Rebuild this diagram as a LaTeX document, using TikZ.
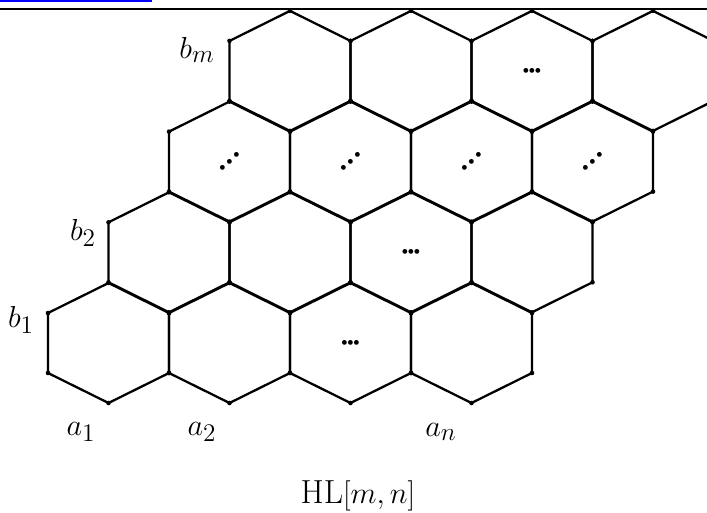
\documentclass[tikz,border=0pt]{standalone}
\usepackage{amsmath,amssymb}
\usepackage{tikz}
\usetikzlibrary{calc}

\tikzset{
  edge/.style={line width=1.3pt},
  lbl/.style={inner sep=0pt,font=\fontsize{19}{22}\selectfont},
  dotm/.style={inner sep=0pt,font=\fontsize{6}{6}\selectfont}
}

\begin{document}
\begin{tikzpicture}[x=0.02cm,y=-0.02cm]
		
		\useasboundingbox (0,0) rectangle (707,513);
		\begin{scope}
		\clip (0,0) rectangle (707,513);
		
		% Rule and link at the top
		\draw[blue,line width=1.2pt] (0,1) -- (152,1);
		\draw[edge] (0,9) -- (707,9);
		
		% Hexagons, row r and column c
		\foreach \r in {0,...,3}{
			\foreach \c in {0,...,3}{
				\pgfmathsetmacro{\cx}{108.5+121*\c+60.5*\r}
				\pgfmathsetmacro{\cy}{343-90.7*\r}
				\coordinate (c\r\c) at (\cx,\cy);
				\foreach \k/\dx/\dy in {1/0/-60,2/60.5/-30,3/60.5/30,4/0/60,5/-60.5/30,6/-60.5/-30}
					\coordinate (v\r\c\k) at (\cx+\dx,\cy+\dy);
				\draw[edge] (v\r\c1) -- (v\r\c2) -- (v\r\c3) -- (v\r\c4) -- (v\r\c5) -- (v\r\c6) -- cycle;
				\foreach \k in {1,...,6}
					\fill (v\r\c\k) circle (1.3pt);
			}
		}
		\end{scope}
		
		% Dots inside the hexagons
		\foreach \h in {02,12,32}
			\foreach \d in {-1,0,1}
				\node[dotm] (e\h\d) at ($(c\h)+(6*\d,0)$) {$\bullet$};
		\foreach \c in {0,...,3}
			\foreach \d in {-1,0,1}
				\node[dotm] (e2\c\d) at ($(c2\c)+(7*\d,-6.4*\d)$) {$\bullet$};
		
		% Labels
		\node[lbl] (b1) at (21,320) {$b_1$};
		\node[lbl] (b2) at (83,233) {$b_2$};
		\node[lbl] (bm) at (197,50) {$b_m$};
		\node[lbl] (a1) at (81,432) {$a_1$};
		\node[lbl] (a2) at (202,432) {$a_2$};
		\node[lbl] (an) at (441,432) {$a_n$};
		\node[lbl] (hl) at (358,496) {HL$[m,n]$};
		
	\end{tikzpicture}
\end{document}
